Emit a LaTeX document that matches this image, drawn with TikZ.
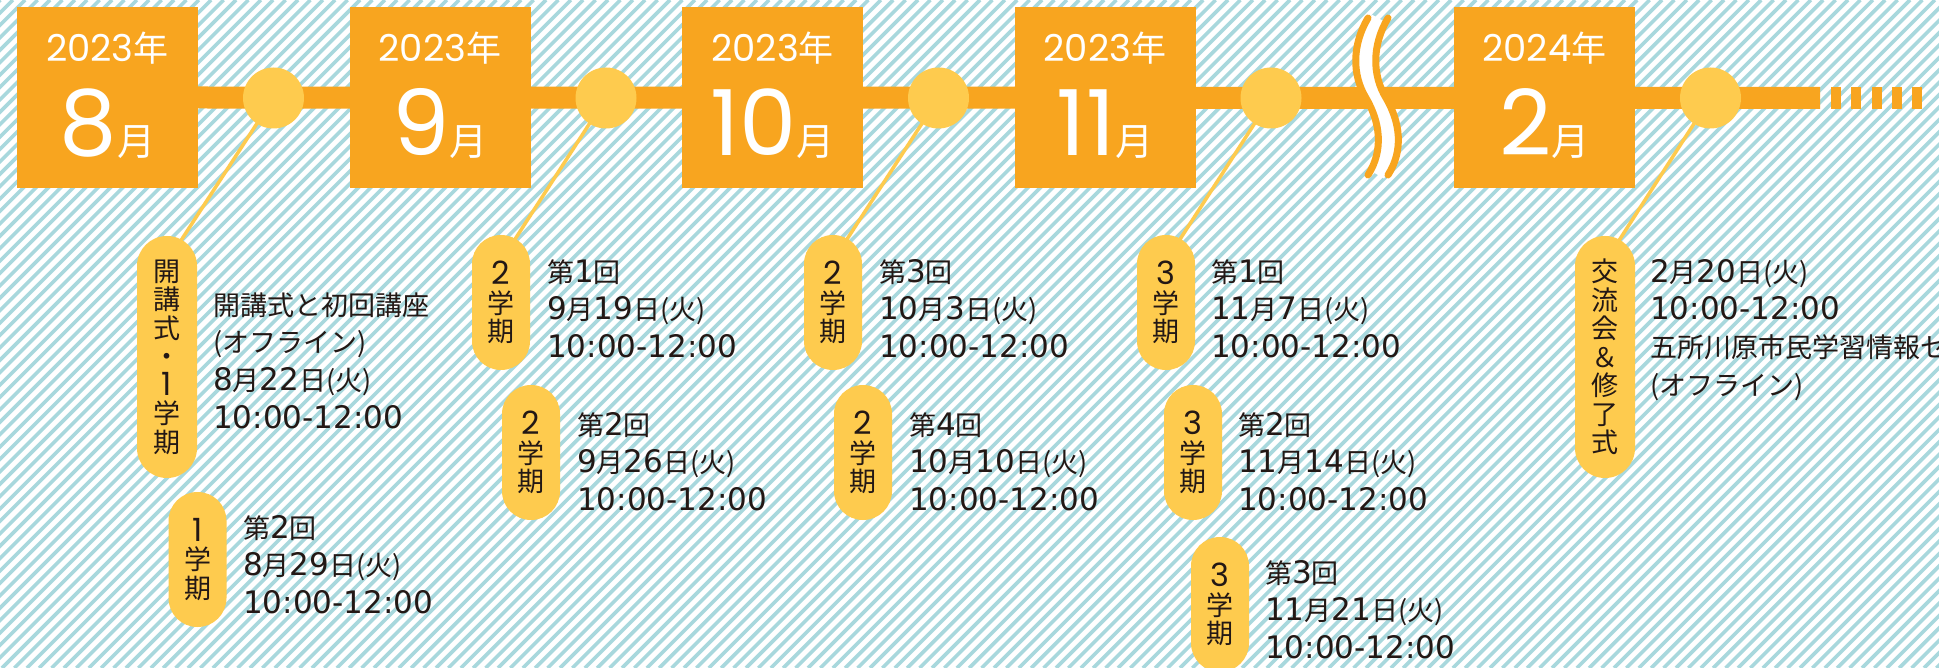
\documentclass[tikz,border=0pt]{standalone}
\usepackage{fontspec}
\setmainfont{Noto Sans CJK JP}
\newfontfamily\dgfont{Poppins}
\newfontfamily\numfont{DejaVu Sans}
\usetikzlibrary{calc}
\definecolor{boxorange}{HTML}{F8A51F}
\definecolor{dotyellow}{HTML}{FECB4E}
\definecolor{hatchblue}{HTML}{A8D8DD}
\definecolor{ink}{HTML}{231815}
\newcommand{\dg}[2][32]{{\dgfont\fontsize{#1}{#1}\selectfont #2}}
\newcommand{\nm}[1]{{\numfont\fontsize{31}{31}\selectfont #1}}
\newcommand{\topstrut}{\rule{0pt}{30pt}}
\pgfdeclarelayer{bg}
\pgfdeclarelayer{links}
\pgfsetlayers{bg,links,main}

\begin{document}
\begin{tikzpicture}[x=1pt, y=-1pt,
  monthbox/.style={fill=boxorange, minimum width=181pt, minimum height=181pt, inner sep=0pt},
  yeartxt/.style={anchor=base, text=white, inner sep=0pt},
  dot/.style={circle, fill=dotyellow, minimum size=61pt, inner sep=0pt},
  band/.style={boxorange, line width=22pt},
  link/.style={dotyellow, line width=3.5pt, shorten >=-8pt},
  pill/.style={fill=dotyellow, rounded corners=28.9pt, minimum width=58pt, minimum height=135pt,
    inner sep=0pt, align=center, text=ink, font=\fontsize{27}{28.5}\selectfont},
  tallpill/.style={pill, minimum width=60pt, rounded corners=29.9pt, minimum height=242pt},
  info/.style={anchor=north west, inner sep=0pt, align=left, text=ink, font=\fontsize{27}{37.7}\selectfont},
  hatch/.style={hatchblue, line width=3.6pt}]

\useasboundingbox (0,0) rectangle (1939,668);
\begin{pgfonlayer}{bg}
\fill[white] (0,0) rectangle (1939,668);
\foreach \k in {0,...,212} \draw[hatch] ({\k*12.4-680},668) -- ++(668,-668);
\end{pgfonlayer}
\clip (0,0) rectangle (1939,668);

\coordinate (bandend) at (1820,98);

% break in the time line
\draw[white, line width=14pt] (1378,18) .. controls (1362,45) and (1362,75) .. (1376,98) .. controls (1390,122) and (1394,150) .. (1378,175);
\foreach \s in {-10,10}
  \draw[boxorange, line width=7pt, line cap=round, xshift=\s pt] (1378,18) .. controls (1362,45) and (1362,75) .. (1376,98) .. controls (1390,122) and (1394,150) .. (1378,175);

\foreach \k in {0,...,4} \fill[boxorange] ({1831+20.3*\k},87) rectangle ++(10,22);

% months
\foreach \n/\x/\yr/\mo in {1/107.5/2023/8, 2/440/2023/9, 3/772.5/2023/10, 4/1105/2023/11, 5/1544.5/2024/2} {
  \node[monthbox] (box\n) at (\x,97.5) {};
  \node[yeartxt] (yr\n) at (\x,62) {\dg[37]{\yr}{\fontsize{35}{35}\selectfont 年}};
  \node[yeartxt] (mo\n) at (\x,156) {\dg[91]{\mo}{\fontsize{38}{38}\selectfont 月}};
}
\foreach \n/\x in {1/273.5, 2/606, 3/938.5, 4/1271, 5/1710.5}
  \node[dot] (dot\n) at (\x,98) {};

% sessions
\node[tallpill] (p1) at (167,357) {開\\講\\式\\・\\\dg{1}\\学\\期};
\node[pill] (p2) at (197.5,559.5) {\dg{1}\\学\\期};
\node[pill] (p3) at (501,302.5) {\dg{2}\\学\\期};
\node[pill] (p4) at (531,452.5) {\dg{2}\\学\\期};
\node[pill] (p5) at (833,302.5) {\dg{2}\\学\\期};
\node[pill] (p6) at (863,452.5) {\dg{2}\\学\\期};
\node[pill] (p7) at (1166,302.5) {\dg{3}\\学\\期};
\node[pill] (p8) at (1193,452.5) {\dg{3}\\学\\期};
\node[pill] (p9) at (1220,604.5) {\dg{3}\\学\\期};
\node[tallpill] (p10) at (1605,357) {交\\流\\会\\＆\\修\\了\\式};

\node[info] (t1) at (213,285) {\topstrut 開講式と初回講座\\(オフライン)\\\nm{8}月\nm{22}日(火)\\\nm{10:00-12:00}};
\node[info] (t2) at (243,508) {\topstrut 第\nm{2}回\\\nm{8}月\nm{29}日(火)\\\nm{10:00-12:00}};
\node[info] (t3) at (547,252) {\topstrut 第\nm{1}回\\\nm{9}月\nm{19}日(火)\\\nm{10:00-12:00}};
\node[info] (t4) at (577,405) {\topstrut 第\nm{2}回\\\nm{9}月\nm{26}日(火)\\\nm{10:00-12:00}};
\node[info] (t5) at (879,252) {\topstrut 第\nm{3}回\\\nm{10}月\nm{3}日(火)\\\nm{10:00-12:00}};
\node[info] (t6) at (909,405) {\topstrut 第\nm{4}回\\\nm{10}月\nm{10}日(火)\\\nm{10:00-12:00}};
\node[info] (t7) at (1211,252) {\topstrut 第\nm{1}回\\\nm{11}月\nm{7}日(火)\\\nm{10:00-12:00}};
\node[info] (t8) at (1238,405) {\topstrut 第\nm{2}回\\\nm{11}月\nm{14}日(火)\\\nm{10:00-12:00}};
\node[info] (t9) at (1265,553) {\topstrut 第\nm{3}回\\\nm{11}月\nm{21}日(火)\\\nm{10:00-12:00}};
\node[info] (t10) at (1650,252) {\topstrut \nm{2}月\nm{20}日(火)\\\nm{10:00-12:00}\\五所川原市民学習情報センター\\(オフライン)};

\begin{pgfonlayer}{links}
\draw[band] (box1.east) -- (bandend);
\draw[link] (dot1.center) -- (p1.82);
\draw[link] (dot2.center) -- (p3.76);
\draw[link] (dot3.center) -- (p5.76);
\draw[link] (dot4.center) -- (p7.76);
\draw[link] (dot5.center) -- (p10.82);
\end{pgfonlayer}

\end{tikzpicture}
\end{document}
